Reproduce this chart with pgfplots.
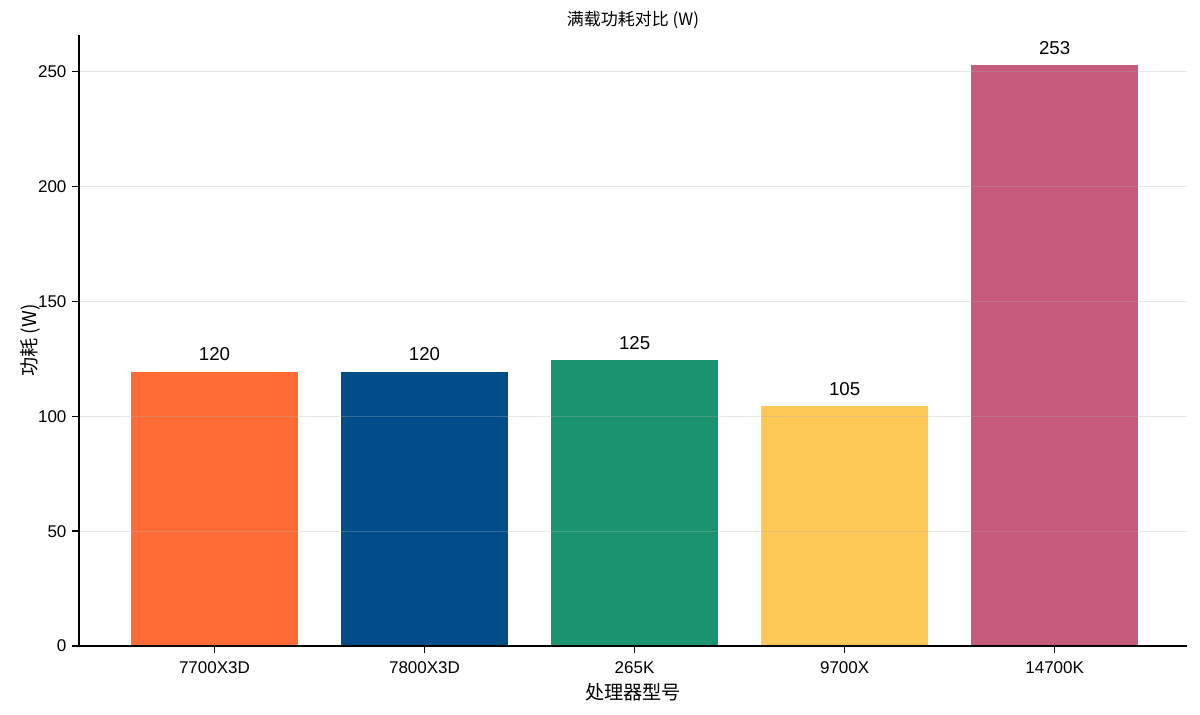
\documentclass[border=0pt]{standalone}
\usepackage{fontspec}
\setmainfont{Liberation Sans}
\newfontfamily\cjk{Noto Sans CJK SC}
\usepackage{pgfplots}
\pgfplotsset{compat=1.18}
\definecolor{c1}{HTML}{FF6B35}
\definecolor{c2}{HTML}{004E89}
\definecolor{c3}{HTML}{1A936F}
\definecolor{c4}{HTML}{FFC857}
\definecolor{c5}{HTML}{C55A7B}
\definecolor{gridc}{HTML}{B0B0B0}
\begin{document}
\begin{tikzpicture}
\begin{axis}[
  scale only axis,
  width=664.8pt, height=366.6pt,
  xmin=-0.645, xmax=4.63,
  ymin=0, ymax=266,
  xtick={0,1,2,3,4},
  xticklabels={7700X3D,7800X3D,265K,9700X,14700K},
  ytick={0,50,100,150,200,250},
  axis x line*=bottom, axis y line*=left,
  axis line style={black, line width=0.8pt},
  tick style={black, line width=0.8pt},
  tick align=outside,
  major tick length=4pt,
  ymajorgrids,
  grid style={gridc, opacity=0.3, line width=0.6pt},
  axis on top,
  /pgf/number format/assume math mode=true,
  tick label style={font=\fontsize{10.2pt}{12pt}\selectfont},
  xlabel={\cjk 处理器型号},
  ylabel={\cjk 功耗 (W)},
  xlabel style={font=\fontsize{11.5pt}{13pt}\selectfont, at={(axis description cs:0.5,-0.0753)}, anchor=center},
  ylabel style={font=\fontsize{11.5pt}{13pt}\selectfont, at={(axis description cs:-0.0442,0.5)}, anchor=center},
  title={\cjk 满载功耗对比 (W)},
  title style={font=\fontsize{10.2pt}{12pt}\selectfont, at={(axis description cs:0.5,1.0246)}, anchor=center, yshift=-6pt},
  xticklabel style={yshift=-1.6pt},
  nodes near coords,
  point meta=explicit symbolic,
  every node near coord/.append style={font=\fontsize{11.2pt}{13pt}\selectfont, black, yshift=2.8pt},
]
\addplot[ybar, bar width=100.2pt, bar shift=0pt, fill=c1, draw=none] coordinates {(0,119.5) [120]};
\addplot[ybar, bar width=100.2pt, bar shift=0pt, fill=c2, draw=none] coordinates {(1,119.5) [120]};
\addplot[ybar, bar width=100.2pt, bar shift=0pt, fill=c3, draw=none] coordinates {(2,124.5) [125]};
\addplot[ybar, bar width=100.2pt, bar shift=0pt, fill=c4, draw=none] coordinates {(3,104.5) [105]};
\addplot[ybar, bar width=100.2pt, bar shift=0pt, fill=c5, draw=none] coordinates {(4,253) [253]};
\end{axis}
\path (current axis.south west) ++(-47.4pt,-40.8pt) coordinate (bbA);
\path (current axis.north east) ++(7.8pt,21pt) coordinate (bbB);
\pgfresetboundingbox
\useasboundingbox (bbA) rectangle (bbB);
\end{tikzpicture}
\end{document}
